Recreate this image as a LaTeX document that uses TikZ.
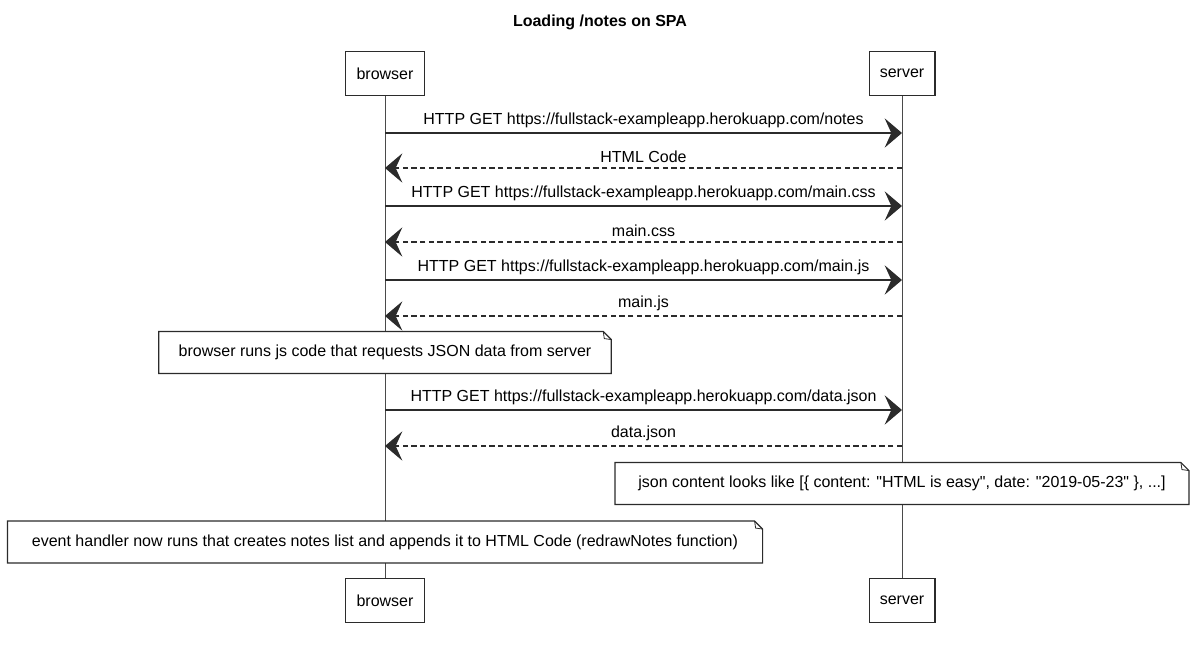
\documentclass[tikz,border=0pt]{standalone}
\usepackage{fontspec}
\setmainfont{Liberation Sans}
\usepackage{tikz}
\usepackage{xcolor}
\usetikzlibrary{positioning, arrows.meta, calc}
\definecolor{cInk}     {HTML}{2B2B2B}
\definecolor{cLifeline}{HTML}{4A4A4A}

\begin{document}
\begin{tikzpicture}[x=0.75pt, y=-0.75pt,
    every node/.style={font=\fontsize{12pt}{14pt}\selectfont, text=black},
    actor/.style={draw=cInk, line width=0.9pt, fill=white, inner xsep=8pt,
                  minimum height=33pt},
    note/.style={fill=white, inner xsep=6pt, minimum height=31pt},
    lifeline/.style={draw=cLifeline, line width=0.7pt},
    request/.style={draw=cInk, line width=1pt,
                    -{Stealth[length=13pt, width=22pt, inset=5pt]}},
    reply/.style={draw=cInk, line width=0.8pt, dash pattern=on 4pt off 2.5pt,
                  -{Stealth[length=13pt, width=22pt, inset=5pt]}},
    msglabel/.style={above=0pt, midway}]
  \useasboundingbox (0,0) rectangle (1200,645);

  \node[font=\fontsize{12pt}{14pt}\selectfont\bfseries] (title) at (600,22) {Loading /notes on SPA};

  % participants, top and bottom
  \node[actor] (bTop) at (385,73.5)  {browser};
  \node[actor] (sTop) at (902,73.5)  {server};
  \node[actor] (bBot) at (385,600.5) {browser};
  \node[actor] (sBot) at (902,600.5) {server};
  \draw[lifeline] (bTop) -- (bBot);
  \draw[lifeline] (sTop) -- (sBot);

  % browser -> server
  \foreach \y/\file [count=\i] in {133/notes, 206/main.css, 280/main.js, 410/data.json}{
    \coordinate (qb\i) at (bTop |- 0,\y);
    \coordinate (qs\i) at (sTop |- 0,\y);
    \draw[request] (qb\i) -- node[msglabel] {HTTP GET https://fullstack-exampleapp.herokuapp.com/\file} (qs\i);
  }
  % server -> browser
  \foreach \y/\txt [count=\i] in {168/HTML Code, 242/main.css, 316/main.js, 446/data.json}{
    \coordinate (rs\i) at (sTop |- 0,\y);
    \coordinate (rb\i) at (bTop |- 0,\y);
    \draw[reply] (rs\i) -- node[msglabel] {\txt} (rb\i);
  }

  % notes over the lifelines
  \node[note, minimum width=339pt] (nReq) at (bTop |- 0,352.5)
    {browser runs js code that requests JSON data from server};
  \node[note, minimum width=430pt] (nJson) at (sTop |- 0,483.5)
    {json content looks like [\{ content: \textquotedbl HTML is easy\textquotedbl, date: \textquotedbl 2019-05-23\textquotedbl\ \}, ...]};
  \node[note, minimum width=566pt] (nHandler) at (bTop |- 0,542)
    {event handler now runs that creates notes list and appends it to HTML Code (redrawNotes function)};
  \foreach \n in {nReq, nJson, nHandler}{
    \draw[cInk, line width=0.9pt] (\n.north west) -- ($(\n.north east)+(-8,0)$)
      -- ($(\n.north east)+(0,8)$) -- (\n.south east) -- (\n.south west) -- cycle;
    \draw[cInk, line width=0.6pt] ($(\n.north east)+(-8,0)$) -- ($(\n.north east)+(-7,7)$)
      -- ($(\n.north east)+(0,8)$);
  }
\end{tikzpicture}
\end{document}
